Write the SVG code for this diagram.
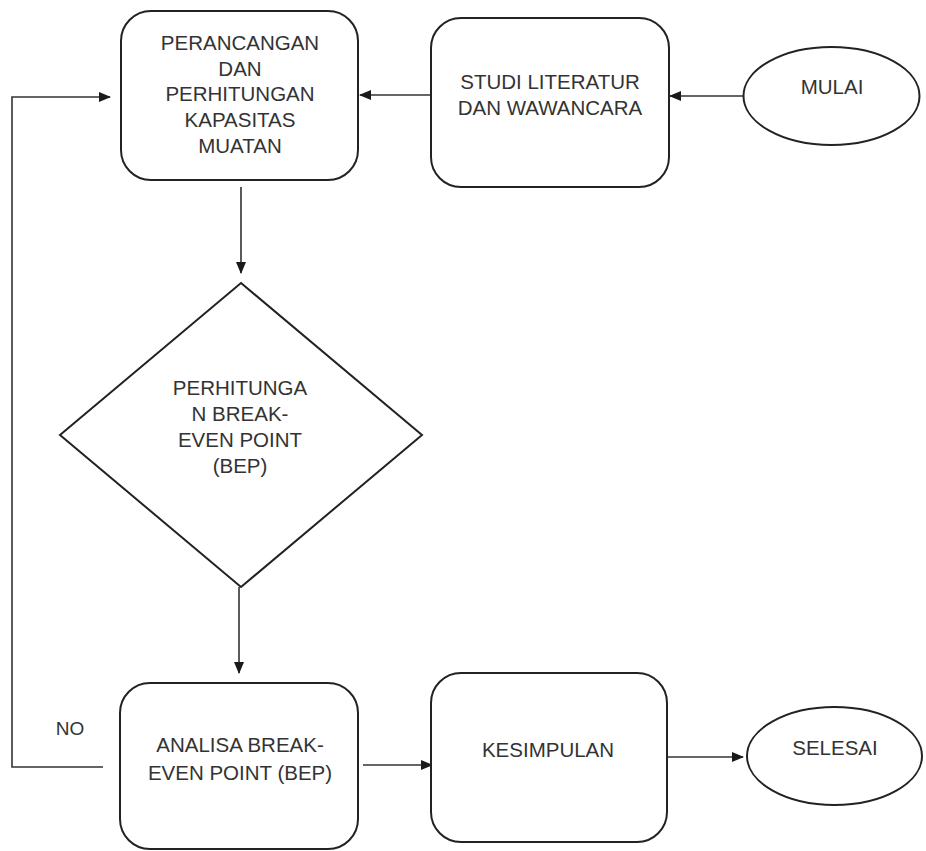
<svg xmlns="http://www.w3.org/2000/svg" width="926" height="851" viewBox="0 0 926 851">
<defs>
<marker id="arr" markerWidth="12" markerHeight="10" refX="11" refY="5" orient="auto" markerUnits="userSpaceOnUse">
<path d="M0,0 L12,5 L0,10 Z" fill="#1a1a1a"/>
</marker>
<style>
.n{fill:#fff;stroke:#222;stroke-width:2}
.t{font-family:"Liberation Sans",Arial,sans-serif;font-size:20.5px;fill:#333;text-anchor:middle}
.c{fill:none;stroke:#333;stroke-width:1.6}
</style>
</defs>
<rect width="926" height="851" fill="#fff"/>
<g id="connectors">
<line class="c" x1="431" y1="95" x2="360" y2="95" marker-end="url(#arr)"/>
<line class="c" x1="743" y1="96" x2="670" y2="96" marker-end="url(#arr)"/>
<line class="c" x1="241" y1="187" x2="241" y2="273" marker-end="url(#arr)"/>
<line class="c" x1="239" y1="587" x2="239" y2="673" marker-end="url(#arr)"/>
<line class="c" x1="363" y1="765" x2="432" y2="765" marker-end="url(#arr)"/>
<line class="c" x1="667" y1="757" x2="743" y2="757" marker-end="url(#arr)"/>
<polyline class="c" points="103,767 12,767 12,97 110,97" marker-end="url(#arr)"/>
<text class="t" x="70" y="735" style="font-size:19px">NO</text>
</g>
<g id="perancangan">
<rect class="n" x="121" y="11" width="237" height="169" rx="30"/>
<text class="t" x="240" y="50">PERANCANGAN</text>
<text class="t" x="240" y="75.5">DAN</text>
<text class="t" x="240" y="101">PERHITUNGAN</text>
<text class="t" x="240" y="127">KAPASITAS</text>
<text class="t" x="240" y="153">MUATAN</text>
</g>
<g id="studi">
<rect class="n" x="431" y="18" width="238" height="169" rx="30"/>
<text class="t" x="550" y="89">STUDI LITERATUR</text>
<text class="t" x="550" y="115">DAN WAWANCARA</text>
</g>
<g id="mulai">
<ellipse class="n" cx="831.5" cy="96" rx="88" ry="49"/>
<text class="t" x="832" y="94">MULAI</text>
</g>
<g id="perhitungan-bep">
<polygon class="n" points="241,283 422,435 241,587 60,435"/>
<text class="t" x="240" y="395">PERHITUNGA</text>
<text class="t" x="240" y="421">N BREAK-</text>
<text class="t" x="240" y="447">EVEN POINT</text>
<text class="t" x="240" y="473">(BEP)</text>
</g>
<g id="analisa">
<rect class="n" x="120" y="683" width="238" height="166" rx="30"/>
<text class="t" x="240" y="752">ANALISA BREAK-</text>
<text class="t" x="240" y="780">EVEN POINT (BEP)</text>
</g>
<g id="kesimpulan">
<rect class="n" x="431" y="673" width="236" height="169" rx="30"/>
<text class="t" x="548" y="757">KESIMPULAN</text>
</g>
<g id="selesai">
<ellipse class="n" cx="834.5" cy="756" rx="87.5" ry="49"/>
<text class="t" x="835" y="755">SELESAI</text>
</g>
</svg>
